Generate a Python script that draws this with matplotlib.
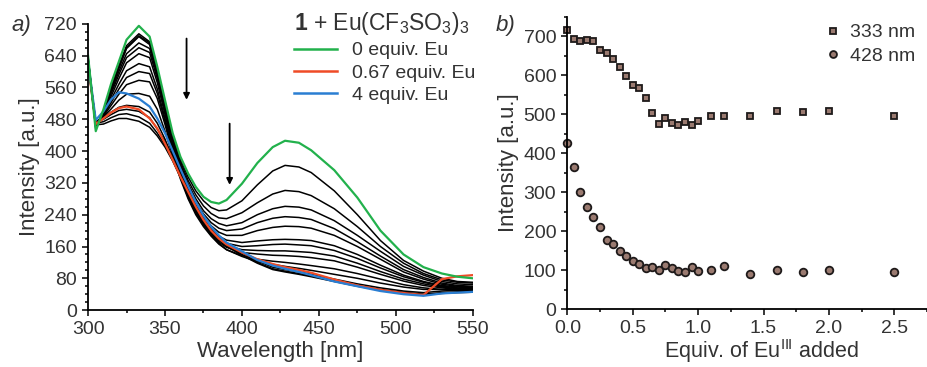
import matplotlib
matplotlib.use('Agg')
import matplotlib.pyplot as plt
from matplotlib.lines import Line2D
from matplotlib.ticker import MultipleLocator

plt.rcParams['font.family'] = ['Liberation Sans', 'DejaVu Sans']
plt.rcParams['mathtext.fontset'] = 'custom'
plt.rcParams['mathtext.rm'] = 'Liberation Sans'
plt.rcParams['mathtext.it'] = 'Liberation Sans:italic'
plt.rcParams['mathtext.bf'] = 'Liberation Sans:bold'

# ---- panel a: emission spectra ----
wl = [300, 305, 310, 315, 320, 325, 333, 340, 345, 350, 355, 360, 365, 370, 375,
      380, 385, 390, 400, 410, 420, 428, 437, 445, 460, 475, 490, 505, 518, 530,
      540, 550]

eq0 = [640, 450, 505, 570, 625, 680, 715, 688, 612, 528, 445, 386, 344, 310, 285,
       272, 268, 277, 318, 370, 410, 426, 421, 402, 352, 283, 200, 140, 108, 92,
       84, 80]
eq067 = [620, 468, 482, 497, 508, 512, 505, 482, 457, 419, 378, 336, 298, 260, 227,
         200, 180, 165, 145, 128, 116, 108, 101, 94, 77, 62, 51, 43, 38, 78,
         85, 88]
eq4 = [625, 478, 500, 530, 548, 545, 532, 512, 482, 445, 400, 355, 312, 272, 238,
       210, 188, 170, 148, 126, 112, 104, 96, 88, 72, 60, 48, 40, 36, 42,
       44, 46]

bk01 = [638, 455, 500, 562, 615, 665, 695, 675, 605, 522, 440, 380, 335, 300, 275,
        258, 250, 252, 275, 315, 350, 364, 360, 346, 300, 240, 175, 125, 98, 80,
        72, 70]
bk02 = [635, 458, 498, 558, 610, 660, 690, 672, 600, 518, 436, 374, 326, 290, 262,
        243, 232, 230, 245, 270, 292, 301, 298, 288, 255, 210, 160, 118, 92, 76,
        70, 68]
bk03 = [632, 460, 500, 556, 608, 658, 688, 668, 596, 514, 430, 368, 318, 280, 250,
        230, 218, 212, 220, 240, 255, 261, 259, 252, 225, 188, 148, 110, 88, 72,
        66, 64]
bk04 = [632, 462, 498, 550, 600, 645, 672, 658, 590, 508, 424, 362, 312, 272, 242,
        220, 206, 200, 204, 220, 231, 235, 233, 228, 205, 172, 136, 102, 82, 68,
        62, 60]
bk05 = [630, 462, 496, 545, 592, 635, 660, 648, 582, 500, 418, 355, 305, 265, 235,
        212, 196, 188, 188, 200, 208, 211, 210, 206, 188, 160, 128, 96, 78, 65,
        60, 58]
bk06 = [630, 464, 494, 538, 582, 622, 645, 635, 572, 492, 412, 348, 298, 258, 228,
        204, 186, 176, 170, 174, 177, 178, 177, 175, 162, 140, 113, 88, 72, 62,
        58, 56]
bk07 = [628, 466, 492, 530, 568, 602, 620, 612, 556, 482, 405, 342, 292, 252, 222,
        198, 180, 168, 160, 162, 165, 166, 164, 162, 150, 130, 106, 84, 70, 60,
        56, 54]
bk08 = [628, 468, 490, 522, 556, 585, 600, 595, 545, 475, 400, 338, 288, 248, 218,
        194, 175, 162, 152, 150, 149, 149, 147, 145, 136, 118, 97, 78, 66, 58,
        54, 52]
bk09 = [626, 470, 488, 515, 543, 567, 578, 574, 532, 467, 395, 334, 284, 244, 214,
        190, 171, 158, 145, 141, 138, 137, 135, 132, 124, 108, 90, 73, 62, 56,
        52, 50]
bk10 = [625, 472, 486, 506, 528, 543, 545, 538, 505, 450, 388, 330, 280, 240, 210,
        186, 166, 152, 137, 128, 123, 120, 116, 112, 104, 92, 78, 64, 56, 52,
        50, 48]
bk11 = [622, 474, 484, 498, 510, 515, 512, 498, 470, 430, 382, 335, 290, 250, 215,
        188, 168, 152, 135, 122, 115, 110, 105, 100, 90, 80, 68, 58, 52, 52,
        52, 52]
bk12 = [620, 472, 480, 492, 502, 505, 500, 484, 455, 425, 383, 340, 300, 262, 228,
        202, 182, 166, 144, 124, 108, 102, 96, 90, 78, 66, 56, 48, 44, 48,
        50, 50]
bk13 = [618, 470, 474, 484, 492, 494, 486, 470, 445, 415, 378, 336, 296, 258, 225,
        198, 178, 162, 140, 120, 104, 98, 92, 86, 74, 62, 52, 45, 40, 44,
        46, 47]
bk14 = [615, 466, 468, 476, 482, 482, 475, 460, 438, 410, 375, 334, 294, 256, 223,
        196, 176, 160, 138, 118, 102, 96, 90, 84, 72, 60, 50, 43, 39, 42,
        44, 45]
black_spectra = [bk01, bk02, bk03, bk04, bk05, bk06, bk07, bk08, bk09, bk10,
                 bk11, bk12, bk13, bk14]

# ---- panel b: titration ----
equiv = [0, 0.05, 0.1, 0.15, 0.2, 0.25, 0.3, 0.35, 0.4, 0.45, 0.5, 0.55, 0.6, 0.65,
         0.7, 0.75, 0.8, 0.85, 0.9, 0.95, 1.0, 1.1, 1.2, 1.4, 1.6, 1.8, 2.0, 2.5]
int333 = [716, 693, 688, 690, 688, 663, 657, 642, 621, 598, 575, 566, 542, 503,
          474, 491, 477, 471, 479, 471, 483, 494, 496, 496, 507, 506, 509, 495]
int428 = [426, 364, 301, 261, 235, 211, 178, 166, 149, 137, 124, 115, 104, 107,
          101, 112, 104, 97, 95, 109, 98, 101, 110, 91, 99, 95, 101, 94]

GREEN = '#22b14c'
RED = '#ef4b26'
BLUE = '#2a7ed2'
TXT = '#333333'
MFACE = '#9a7a70'
MEDGE = '#1e1a1a'

fig = plt.figure(figsize=(9.27, 3.67), dpi=100)
ax1 = fig.add_axes([0.095, 0.155, 0.415, 0.78])
ax2 = fig.add_axes([0.612, 0.158, 0.388, 0.797])

for ax in (ax1, ax2):
    for s in ('top', 'right'):
        ax.spines[s].set_visible(False)
    for s in ('left', 'bottom'):
        ax.spines[s].set_linewidth(1.3)
    ax.tick_params(which='both', direction='out', colors='black',
                   labelcolor=TXT, labelsize=14, width=1.1)
    ax.tick_params(which='major', length=4.5)
    ax.tick_params(which='minor', length=2.5)

for spec in black_spectra:
    ax1.plot(wl, spec, color='black', lw=1.1)
ax1.plot(wl, eq067, color=RED, lw=1.6)
ax1.plot(wl, eq4, color=BLUE, lw=1.6)
ax1.plot(wl, eq0, color=GREEN, lw=1.6)

ax1.set_xlim(300, 550)
ax1.set_ylim(0, 720)
ax1.xaxis.set_major_locator(MultipleLocator(50))
ax1.xaxis.set_minor_locator(MultipleLocator(25))
ax1.yaxis.set_major_locator(MultipleLocator(80))
ax1.yaxis.set_minor_locator(MultipleLocator(20))
ax1.set_xlabel('Wavelength [nm]', fontsize=16, color=TXT, labelpad=2)
ax1.set_ylabel('Intensity [a.u.]', fontsize=16, color=TXT, labelpad=3)

arrow = dict(arrowstyle='-|>', color='black', lw=1.3, mutation_scale=9)
ax1.annotate('', xy=(364, 522), xytext=(364, 690), arrowprops=arrow)
ax1.annotate('', xy=(392, 308), xytext=(392, 476), arrowprops=arrow)

handles = [Line2D([], [], color=GREEN, lw=1.8),
           Line2D([], [], color=RED, lw=1.8),
           Line2D([], [], color=BLUE, lw=1.8)]
leg = ax1.legend(handles, ['0 equiv. Eu', '0.67 equiv. Eu', '4 equiv. Eu'],
                 loc='upper left', bbox_to_anchor=(0.49, 1.11), frameon=False,
                 fontsize=14, handlelength=2.2, handletextpad=0.8,
                 labelspacing=0.25, labelcolor=TXT,
                 title=r'$\mathbf{1}$ + Eu(CF$_3$SO$_3$)$_3$',
                 title_fontsize=16.5, alignment='left')
leg.get_title().set_color(TXT)

ax2.plot(equiv, int333, ls='none', marker='s', ms=5, mfc=MFACE,
         mec=MEDGE, mew=1.3, clip_on=False, label='333 nm')
ax2.plot(equiv, int428, ls='none', marker='o', ms=5.5, mfc=MFACE,
         mec=MEDGE, mew=1.3, clip_on=False, label='428 nm')
ax2.set_xlim(0, 2.75)
ax2.set_ylim(0, 750)
ax2.xaxis.set_major_locator(MultipleLocator(0.5))
ax2.xaxis.set_minor_locator(MultipleLocator(0.25))
ax2.yaxis.set_major_locator(MultipleLocator(100))
ax2.yaxis.set_minor_locator(MultipleLocator(50))
ax2.set_xlabel(r'Equiv. of Eu$^{\mathrm{III}}$ added', fontsize=15.5, color=TXT)
ax2.xaxis.set_label_coords(0.54, -0.095)
ax2.set_ylabel('Intensity [a.u.]', fontsize=16, color=TXT, labelpad=3)
ax2.legend(loc='upper right', bbox_to_anchor=(1.0, 1.015), frameon=False,
           fontsize=14, handlelength=1.0, handletextpad=0.4, labelspacing=0.3,
           labelcolor=TXT, borderaxespad=0.2, markerscale=0.9)

fig.text(0.012, 0.915, 'a)', fontsize=16, style='italic', color=TXT)
fig.text(0.535, 0.915, 'b)', fontsize=16, style='italic', color=TXT)

plt.savefig('out.png', dpi=100)
plt.close()
